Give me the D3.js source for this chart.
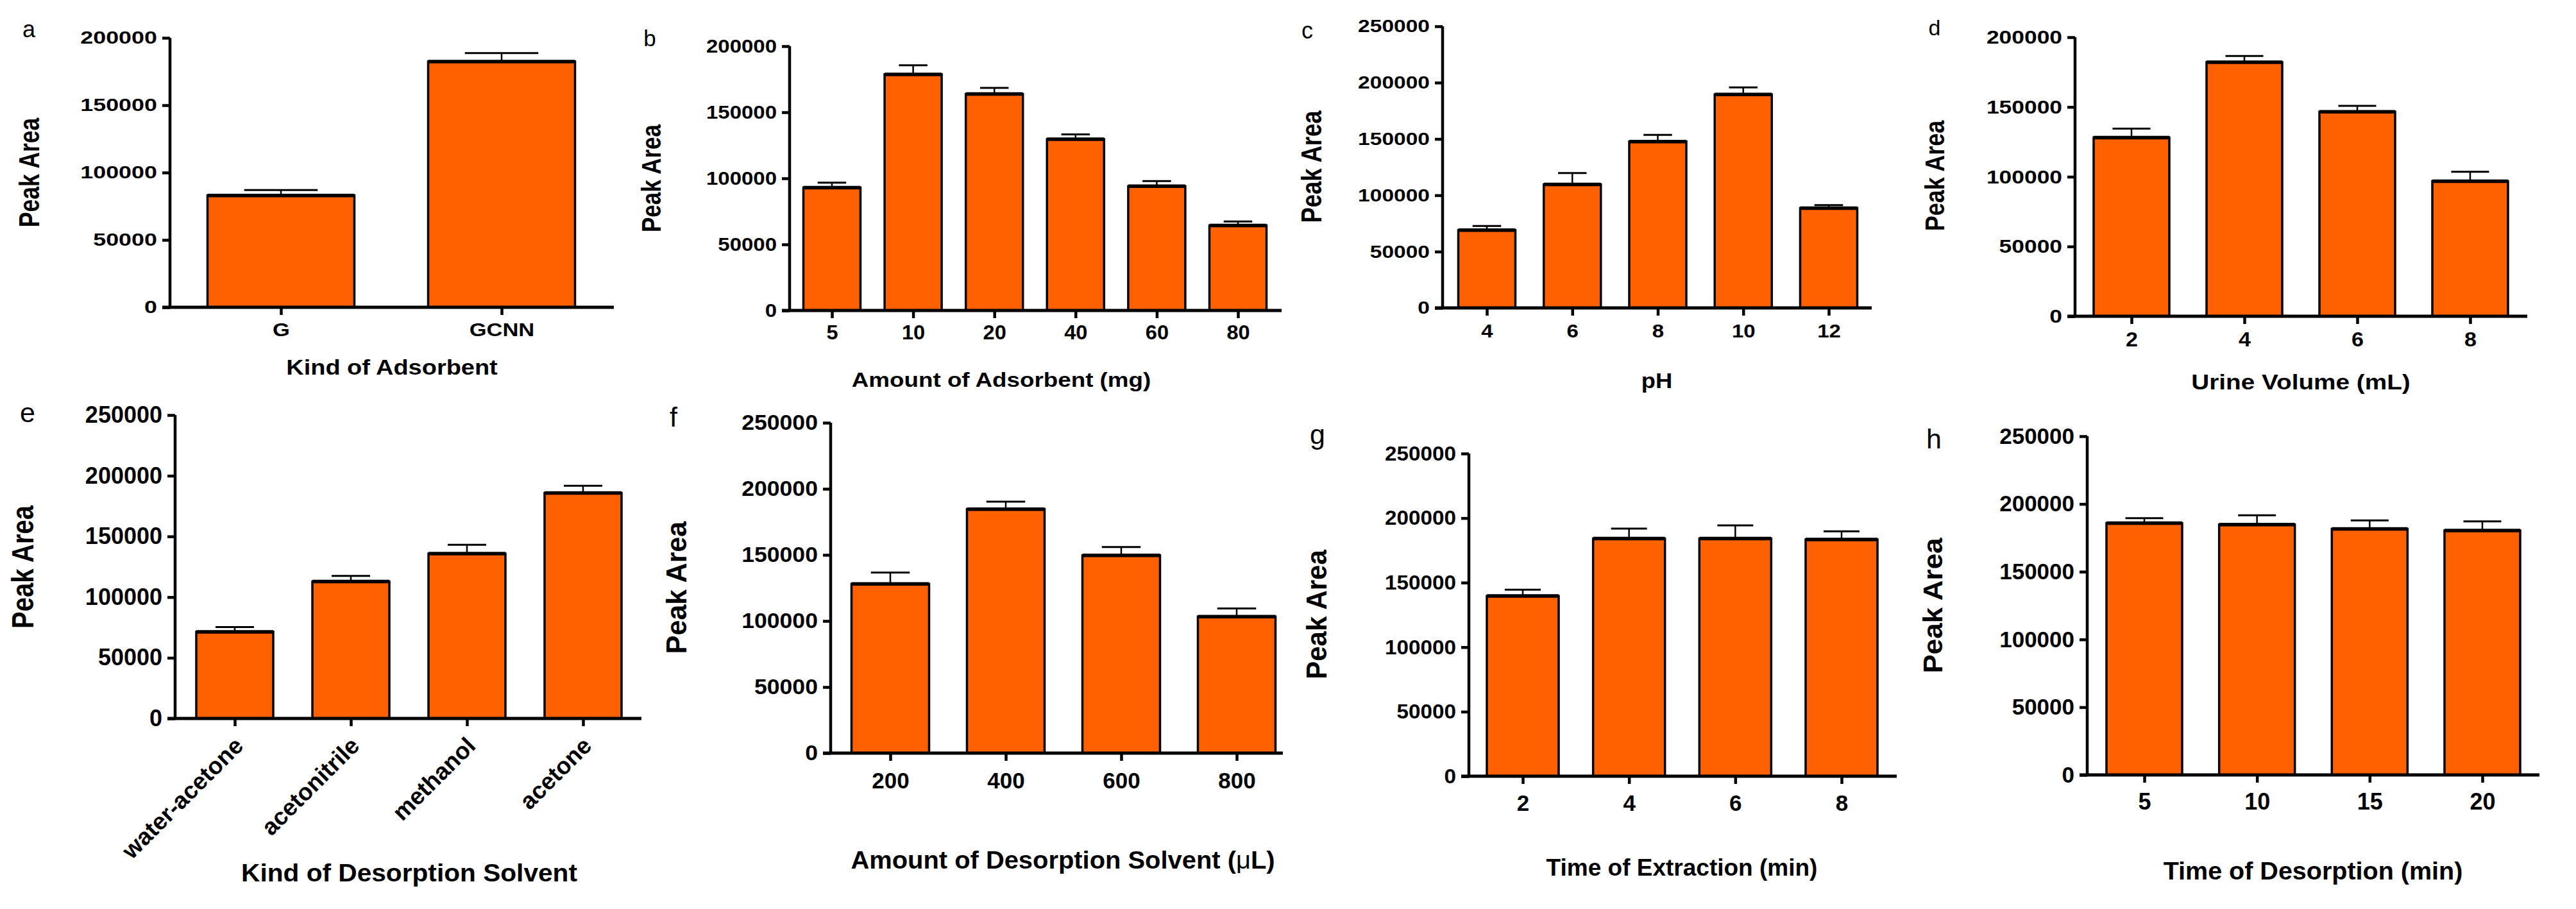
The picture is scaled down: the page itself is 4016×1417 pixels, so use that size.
<!DOCTYPE html>
<html>
<head>
<meta charset="utf-8">
<title>Peak Area vs extraction conditions</title>
<script src="https://cdn.jsdelivr.net/npm/d3@7/dist/d3.min.js"></script>
<style>
  body { margin: 0; background: #fff; }
  text { font-family: "Liberation Sans", Arial, sans-serif; }
</style>
</head>
<body>
<svg width="4016" height="1417" id="mainsvg"></svg>
<script>
// ---- data ----
const adsorbentKinds = ['G', 'GCNN'];
const adsorbentKindArea = [83000, 182400];
const adsorbentKindErr = [4000, 6300];

const adsorbentAmounts = ['5', '10', '20', '40', '60', '80'];
const adsorbentAmountArea = [93000, 178700, 163800, 129600, 94000, 64300];
const adsorbentAmountErr = [3700, 6800, 4600, 3700, 3900, 3000];

const phLevels = ['4', '6', '8', '10', '12'];
const phArea = [69000, 109600, 147700, 189500, 88600];
const phErr = [3800, 10200, 5900, 6200, 2600];

const urineVolumes = ['2', '4', '6', '8'];
const urineArea = [128100, 182100, 146600, 96800];
const urineErr = [6400, 4400, 4200, 6800];

const solvents = ['water-acetone', 'acetonitrile', 'methanol', 'acetone'];
const solventArea = [71400, 112800, 135800, 185800];
const solventErr = [3900, 4700, 7300, 5900];

const solventAmounts = ['200', '400', '600', '800'];
const solventAmountArea = [128000, 184600, 149600, 103300];
const solventAmountErr = [8600, 5700, 6400, 6200];

const extractionTimes = ['2', '4', '6', '8'];
const extractionArea = [139600, 184100, 184100, 183400];
const extractionErr = [4900, 7800, 10200, 6300];

const desorptionTimes = ['5', '10', '15', '20'];
const desorptionArea = [185800, 184800, 181600, 180400];
const desorptionErr = [3700, 6800, 6200, 6800];

const ticks200k = [0, 50000, 100000, 150000, 200000];
const ticks250k = [0, 50000, 100000, 150000, 200000, 250000];

const yTitle = 'Peak Area';

// ---- layout of each sub-figure (pixels) ----
const layout = {
  a: {lx: 45, ly: 58, lfs: 36, ax: 265, yTop: 59, y0: 479, xEnd: 957, c0: 438, cN: 782, barW: 229,
      fs: 27, sx: 1.33, xfs: 30, xsx: 1.15, xoff: 35, tx: 611, ty: 572, tfs: 33, tsx: 1.15,
      ytx: 45, yty: 269, ytfs: 35.5, ytsx: 1.27},
  b: {lx: 1013, ly: 72, lfs: 35, ax: 1231, yTop: 72, y0: 484, xEnd: 1998, c0: 1297, cN: 1930, barW: 89,
      fs: 30, sx: 1.1, xfs: 31, xsx: 1.05, xoff: 34, tx: 1561, ty: 591, tfs: 32, tsx: 1.15,
      ytx: 1014, yty: 278, ytfs: 35, ytsx: 1.24},
  c: {lx: 2038, ly: 60, lfs: 36, ax: 2249, yTop: 41, y0: 480, xEnd: 2918, c0: 2318, cN: 2851, barW: 89,
      fs: 27.5, sx: 1.22, xfs: 30, xsx: 1.1, xoff: 36, tx: 2583, ty: 593, tfs: 33, tsx: 1.1,
      ytx: 2044, yty: 260, ytfs: 36.5, ytsx: 1.2},
  d: {lx: 3016, ly: 55, lfs: 34, ax: 3235, yTop: 58, y0: 493, xEnd: 3940, c0: 3323, cN: 3851, barW: 118,
      fs: 30, sx: 1.18, xfs: 31, xsx: 1.1, xoff: 36, tx: 3587, ty: 595, tfs: 34, tsx: 1.14,
      ytx: 3015, yty: 274, ytfs: 36, ytsx: 1.2},
  e: {lx: 43, ly: 658, lfs: 43, ax: 273, yTop: 647, y0: 1120, xEnd: 1000, c0: 366, cN: 909, barW: 120,
      fs: 36, sx: 1.0, xfs: 37, xsx: 1.0, xoff: 0, rotate: true, tx: 638, ty: 1360, tfs: 38, tsx: 1.07,
      ytx: 35, yty: 884, ytfs: 40, ytsx: 1.18},
  f: {lx: 1050, ly: 665, lfs: 43, ax: 1295, yTop: 659, y0: 1174, xEnd: 2000, c0: 1388, cN: 1928, barW: 121,
      fs: 33, sx: 1.08, xfs: 35, xsx: 1.0, xoff: 43, tx: 1657, ty: 1340, tfs: 38, tsx: 1.05,
      ytx: 1054, yty: 916, ytfs: 43, ytsx: 1.05},
  g: {lx: 2054, ly: 692, lfs: 43, ax: 2290, yTop: 707, y0: 1210, xEnd: 2957, c0: 2374, cN: 2871, barW: 112,
      fs: 32, sx: 1.04, xfs: 35, xsx: 1.0, xoff: 42, tx: 2622, ty: 1352, tfs: 37, tsx: 1.0,
      ytx: 2052, yty: 958, ytfs: 42, ytsx: 1.05},
  h: {lx: 3015, ly: 699, lfs: 43, ax: 3254, yTop: 680, y0: 1208, xEnd: 3959, c0: 3343, cN: 3870, barW: 118,
      fs: 35, sx: 1.0, xfs: 36, xsx: 1.0, xoff: 41, tx: 3606, ty: 1357, tfs: 38, tsx: 1.04,
      ytx: 3013, yty: 944, ytfs: 44, ytsx: 0.97}
};

const panels = [
  {id: 'a', cats: adsorbentKinds, vals: adsorbentKindArea, errs: adsorbentKindErr, ticks: ticks200k, title: ['Kind of Adsorbent']},
  {id: 'b', cats: adsorbentAmounts, vals: adsorbentAmountArea, errs: adsorbentAmountErr, ticks: ticks200k, title: ['Amount of Adsorbent (mg)']},
  {id: 'c', cats: phLevels, vals: phArea, errs: phErr, ticks: ticks250k, title: ['pH']},
  {id: 'd', cats: urineVolumes, vals: urineArea, errs: urineErr, ticks: ticks200k, title: ['Urine Volume (mL)']},
  {id: 'e', cats: solvents, vals: solventArea, errs: solventErr, ticks: ticks250k, title: ['Kind of Desorption Solvent']},
  {id: 'f', cats: solventAmounts, vals: solventAmountArea, errs: solventAmountErr, ticks: ticks250k, title: ['Amount of Desorption Solvent (', 'μ', 'L)']},
  {id: 'g', cats: extractionTimes, vals: extractionArea, errs: extractionErr, ticks: ticks250k, title: ['Time of Extraction (min)']},
  {id: 'h', cats: desorptionTimes, vals: desorptionArea, errs: desorptionErr, ticks: ticks250k, title: ['Time of Desorption (min)']}
];

const ORANGE = '#ff6000';
const TICK = 12;
const svg = d3.select('#mainsvg');

function drawPanel(p) {
  const L = layout[p.id];
  const g = svg.append('g').attr('id', 'panel-' + p.id);
  const yMax = d3.max(p.ticks);
  const y = d3.scaleLinear().domain([0, yMax]).range([L.y0, L.yTop]);
  const x = d3.scalePoint().domain(p.cats).range([L.c0, L.cN]);
  const rows = p.cats.map((c, i) => ({cat: c, v: p.vals[i], e: p.errs[i]}));

  // bars
  g.selectAll('rect.bar').data(rows).join('rect').attr('class', 'bar')
    .attr('x', d => x(d.cat) - L.barW / 2)
    .attr('y', d => y(d.v))
    .attr('width', L.barW)
    .attr('height', d => y(0) - y(d.v))
    .attr('fill', ORANGE).attr('stroke', '#000').attr('stroke-width', 3.5);
  // heavier top edge
  g.selectAll('line.top').data(rows).join('line').attr('class', 'top')
    .attr('x1', d => x(d.cat) - L.barW / 2).attr('x2', d => x(d.cat) + L.barW / 2)
    .attr('y1', d => y(d.v)).attr('y2', d => y(d.v))
    .attr('stroke', '#000').attr('stroke-width', 5.5);

  // error bars (upper only)
  g.selectAll('line.err').data(rows).join('line').attr('class', 'err')
    .attr('x1', d => x(d.cat)).attr('x2', d => x(d.cat))
    .attr('y1', d => y(d.v)).attr('y2', d => y(d.v + d.e))
    .attr('stroke', '#000').attr('stroke-width', 2.5);
  g.selectAll('line.cap').data(rows).join('line').attr('class', 'cap')
    .attr('x1', d => x(d.cat) - L.barW / 4).attr('x2', d => x(d.cat) + L.barW / 4)
    .attr('y1', d => y(d.v + d.e)).attr('y2', d => y(d.v + d.e))
    .attr('stroke', '#000').attr('stroke-width', 3);

  // y axis
  const ya = g.append('g').attr('transform', `translate(${L.ax},0)`)
    .call(d3.axisLeft(y).tickValues(p.ticks).tickSize(TICK).tickPadding(8).tickFormat(d3.format('d')));
  ya.select('.domain').remove();
  ya.selectAll('line').attr('stroke', '#000').attr('stroke-width', 4.5);
  ya.selectAll('text')
    .attr('fill', '#000').attr('font-size', L.fs).attr('font-weight', 'bold')
    .attr('x', -(TICK + 8) / L.sx)
    .attr('transform', `scale(${L.sx},1)`);

  // x axis
  const pad = L.xoff - TICK - 0.36 * L.xfs;
  const xa = g.append('g').attr('transform', `translate(0,${L.y0})`)
    .call(d3.axisBottom(x).tickSize(TICK).tickPadding(pad));
  xa.select('.domain').remove();
  xa.selectAll('line').attr('stroke', '#000').attr('stroke-width', 4.5);
  const xt = xa.selectAll('text')
    .attr('fill', '#000').attr('font-size', L.xfs).attr('font-weight', 'bold');
  if (L.rotate) {
    xt.attr('text-anchor', 'end').attr('x', 0).attr('y', 0).attr('dy', 0)
      .attr('transform', 'translate(15,45) rotate(-45)');
  } else {
    xt.attr('transform', `scale(${L.xsx},1)`);
  }

  // axis lines
  g.append('line')
    .attr('x1', L.ax).attr('x2', L.ax).attr('y1', y(0)).attr('y2', y(yMax))
    .attr('stroke', '#000').attr('stroke-width', 4.5);
  g.append('line')
    .attr('x1', L.ax - TICK).attr('x2', L.xEnd).attr('y1', y(0)).attr('y2', y(0))
    .attr('stroke', '#000').attr('stroke-width', 5);

  // axis titles
  const t = g.append('text')
    .attr('transform', `translate(${L.tx},${L.ty}) scale(${L.tsx},1)`)
    .attr('text-anchor', 'middle').attr('dy', '0.36em')
    .attr('font-size', L.tfs).attr('font-weight', 'bold').attr('fill', '#000');
  p.title.forEach(s => {
    t.append('tspan').text(s)
      .attr('font-weight', s === 'μ' ? 'normal' : 'bold');
  });

  g.append('text')
    .attr('transform', `translate(${L.ytx},${L.yty}) scale(${L.ytsx},1) rotate(-90)`)
    .attr('text-anchor', 'middle').attr('dy', '0.36em')
    .attr('font-size', L.ytfs).attr('font-weight', 'bold').attr('fill', '#000')
    .text(yTitle);

  // panel letter
  g.append('text')
    .attr('x', L.lx).attr('y', L.ly)
    .attr('text-anchor', 'middle')
    .attr('font-size', L.lfs).attr('fill', '#000')
    .text(p.id);
}

panels.forEach(drawPanel);
</script>
</body>
</html>
